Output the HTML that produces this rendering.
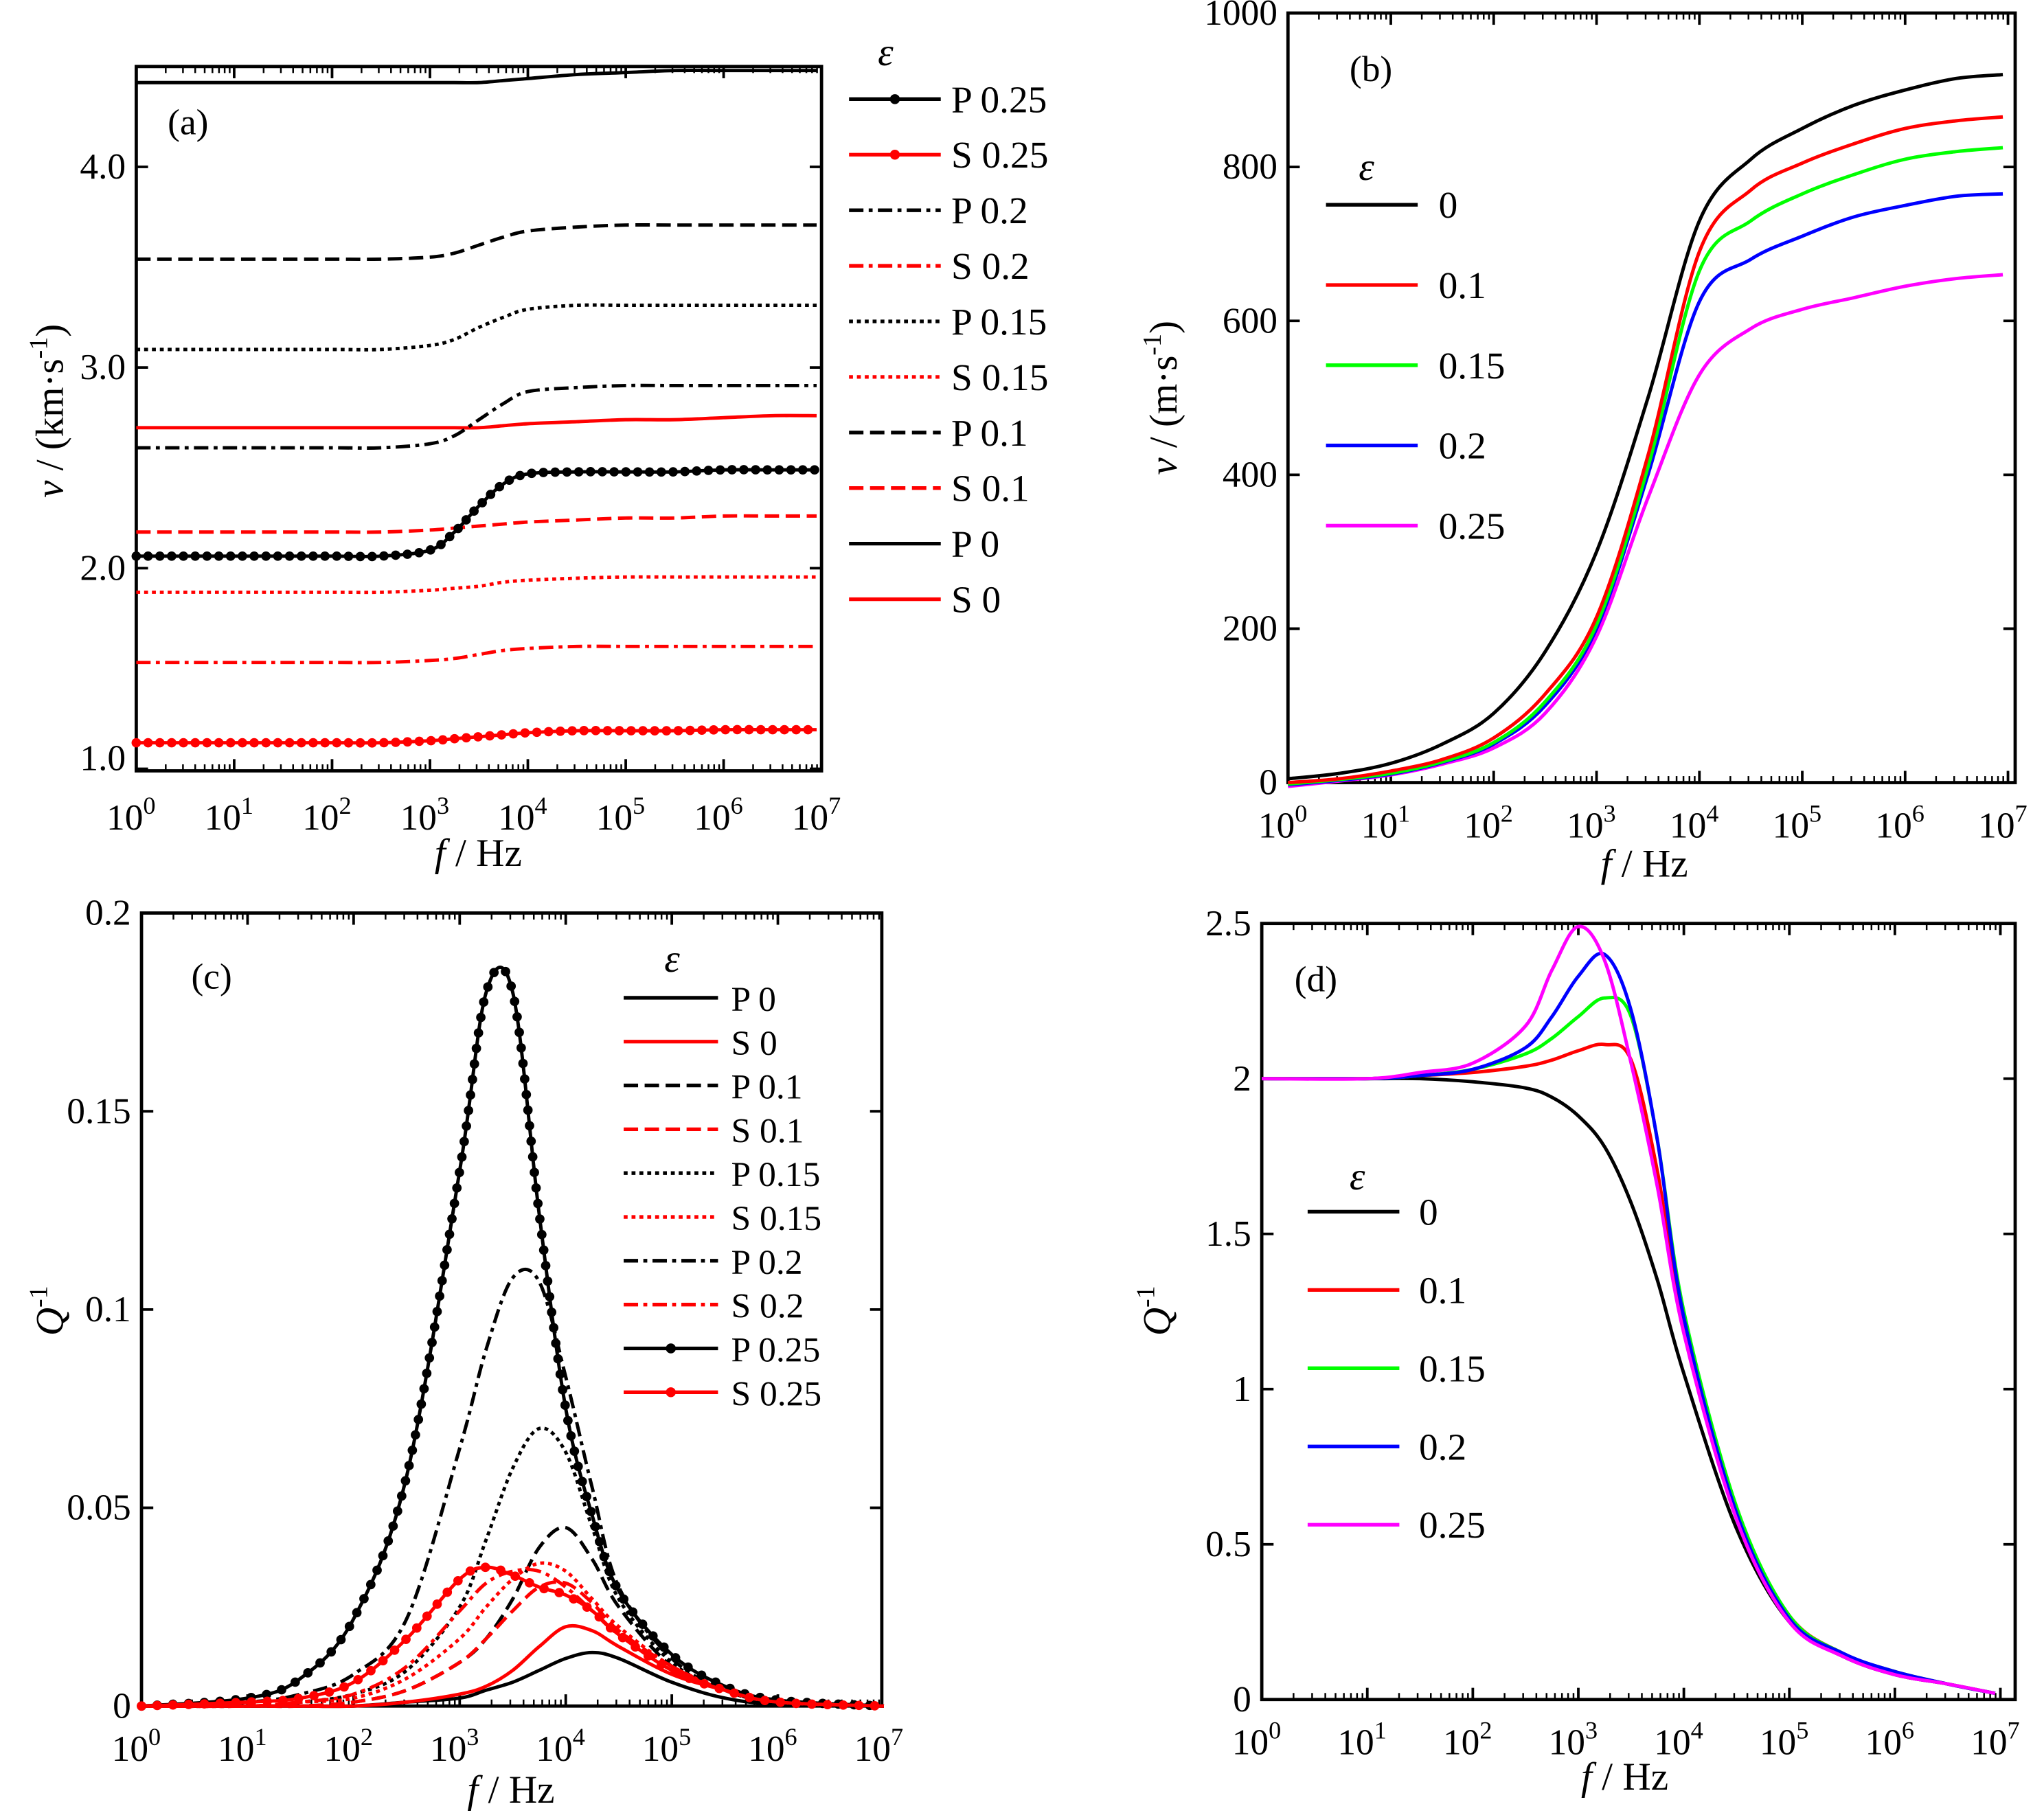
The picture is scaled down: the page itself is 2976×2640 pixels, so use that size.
<!DOCTYPE html>
<html><head><meta charset="utf-8"><style>
html,body{margin:0;padding:0;background:#fff;}
svg{display:block;}
text{font-family:"Liberation Serif",serif;fill:#000;}
</style></head><body>
<svg id="fig" xmlns="http://www.w3.org/2000/svg" width="2976" height="2640" viewBox="0 0 1560 1390" preserveAspectRatio="none"></svg>
<script>
// ---------- Panel (a) data: velocity (km/s) ----------
const aLogF = [0,1,2,2.5,3,3.25,3.5,3.75,4,4.5,5,5.5,6,6.5,6.95];
const aP025 = [2.06,2.06,2.06,2.06,2.09,2.18,2.31,2.42,2.47,2.48,2.48,2.48,2.49,2.49,2.49];
const aS025 = [1.13,1.13,1.13,1.13,1.14,1.15,1.16,1.17,1.18,1.19,1.19,1.19,1.195,1.195,1.195];
const aP02  = [2.60,2.60,2.60,2.60,2.62,2.66,2.74,2.82,2.88,2.90,2.91,2.91,2.91,2.91,2.91];
const aS02  = [1.53,1.53,1.53,1.53,1.54,1.55,1.57,1.59,1.60,1.61,1.61,1.61,1.61,1.61,1.61];
const aP015 = [3.09,3.09,3.09,3.09,3.11,3.14,3.20,3.25,3.29,3.31,3.31,3.31,3.31,3.31,3.31];
const aS015 = [1.88,1.88,1.88,1.88,1.89,1.90,1.91,1.93,1.94,1.95,1.956,1.956,1.956,1.956,1.956];
const aP01  = [3.54,3.54,3.54,3.54,3.55,3.57,3.61,3.65,3.68,3.70,3.71,3.71,3.71,3.71,3.71];
const aS01  = [2.18,2.18,2.18,2.18,2.19,2.20,2.21,2.22,2.23,2.24,2.25,2.25,2.26,2.26,2.26];
const aP0   = [4.42,4.42,4.42,4.42,4.42,4.42,4.42,4.43,4.44,4.46,4.47,4.48,4.48,4.48,4.48];
const aS0   = [2.70,2.70,2.70,2.70,2.70,2.70,2.70,2.71,2.72,2.73,2.74,2.74,2.75,2.76,2.76];
const aYTicks = [1,2,3,4];
const aYLabels = ["1.0","2.0","3.0","4.0"];

// ---------- Panel (b) data: velocity (m/s) ----------
const bLogF = [0,0.5,1,1.5,2,2.5,3,3.5,4,4.5,5,5.5,6,6.5,6.95];
const bE0   = [5,12,25,50,90,170,300,500,730,810,850,880,900,915,920];
const bE01  = [0,5,15,30,58,115,215,425,690,770,805,830,850,860,865];
const bE015 = [-2,4,12,27,52,105,205,410,665,730,765,790,810,820,825];
const bE02  = [-3,3,11,26,50,100,200,400,625,680,710,735,750,762,765];
const bE025 = [-5,2,10,24,45,90,190,370,530,590,615,630,645,655,660];
const bYTicks = [0,200,400,600,800,1000];

// ---------- Panel (c) data: attenuation ----------
const cLogF = [0,1,1.5,2,2.5,3,3.25,3.5,3.75,4,4.25,4.5,5,5.5,6,7];
const cP025 = [0,0.002,0.007,0.022,0.058,0.135,0.18,0.18,0.124,0.075,0.048,0.029,0.013,0.005,0.0015,0];
const cP02  = [0,0.001,0.003,0.008,0.022,0.065,0.09,0.108,0.107,0.083,0.055,0.03,0.012,0.004,0.001,0];
const cP015 = [0,0,0.001,0.003,0.009,0.025,0.042,0.06,0.07,0.064,0.045,0.027,0.011,0.004,0.001,0];
const cP01  = [0,0,0,0.001,0.004,0.011,0.017,0.027,0.04,0.045,0.037,0.025,0.01,0.004,0.001,0];
const cP0   = [0,0,0,0,0.001,0.002,0.004,0.006,0.009,0.012,0.0135,0.012,0.006,0.002,0.0005,0];
const cS025 = [0,0.001,0.002,0.006,0.017,0.032,0.035,0.033,0.03,0.028,0.024,0.018,0.009,0.004,0.001,0];
const cS02  = [0,0,0.001,0.003,0.01,0.024,0.031,0.034,0.034,0.03,0.024,0.018,0.01,0.004,0.001,0];
const cS015 = [0,0,0.001,0.002,0.007,0.017,0.025,0.032,0.036,0.034,0.027,0.02,0.01,0.004,0.001,0];
const cS01  = [0,0,0,0.001,0.004,0.011,0.017,0.024,0.03,0.031,0.026,0.019,0.01,0.004,0.001,0];
const cS0   = [0,0,0,0,0.001,0.003,0.005,0.009,0.015,0.02,0.019,0.015,0.008,0.004,0.001,0];
const cYTicks = [0,0.05,0.1,0.15,0.2];
const cYLabels = ["0","0.05","0.1","0.15","0.2"];

// ---------- Panel (d) data: normalized attenuation ----------
const dLogF = [0,1,1.5,2,2.5,2.75,3,3.25,3.5,3.75,4,4.5,5,5.5,6,6.5,6.95];
const dE0   = [2,2,2,1.99,1.97,1.94,1.88,1.78,1.6,1.35,1.05,0.55,0.25,0.14,0.08,0.05,0.02];
const dE01  = [2,2,2.01,2.02,2.04,2.06,2.09,2.11,2.06,1.7,1.2,0.6,0.27,0.15,0.09,0.05,0.02];
const dE015 = [2,2,2.01,2.03,2.08,2.13,2.2,2.26,2.2,1.8,1.25,0.62,0.27,0.15,0.09,0.05,0.02];
const dE02  = [2,2,2.01,2.03,2.1,2.2,2.33,2.4,2.22,1.8,1.23,0.6,0.26,0.15,0.09,0.05,0.02];
const dE025 = [2,2,2.02,2.05,2.17,2.35,2.49,2.38,2.05,1.65,1.18,0.58,0.25,0.14,0.08,0.05,0.02];
const dYTicks = [0,0.5,1,1.5,2,2.5];
const dYLabels = ["0","0.5","1","1.5","2","2.5"];

const NS="http://www.w3.org/2000/svg";
const svg=document.getElementById('fig');
function mk(tag,attrs,parent){const e=document.createElementNS(NS,tag);for(const k in attrs)e.setAttribute(k,attrs[k]);(parent||svg).appendChild(e);return e;}

function makePanel(P){
  const g=mk('g',{});
  
  
  P.g=g;
  P.sx=v=>P.x0+(v-P.xmin)/(P.xmax-P.xmin)*(P.x1-P.x0);
  P.sy=v=>P.y1-(v-P.ymin)/(P.ymax-P.ymin)*(P.y1-P.y0);
  return P;
}
function drawAxes(P){
  const g=P.g;
  const box=mk('rect',{x:P.x0,y:P.y0,width:P.x1-P.x0,height:P.y1-P.y0,fill:'none',stroke:'#000','stroke-width':2.5},g);
  
  
  for(let d=0;d<=7;d++){
    const x=P.sx(d);
    if(x<=P.x1+0.5){
      mk('line',{x1:x,y1:P.y1,x2:x,y2:P.y1-9,stroke:'#000','stroke-width':2},g);
      mk('line',{x1:x,y1:P.y0,x2:x,y2:P.y0+9,stroke:'#000','stroke-width':2},g);
    }
    for(let m=2;m<=9;m++){
      const xm=P.sx(d+Math.log10(m));
      if(xm<P.x1){
        mk('line',{x1:xm,y1:P.y1,x2:xm,y2:P.y1-5,stroke:'#000','stroke-width':1.3},g);
        mk('line',{x1:xm,y1:P.y0,x2:xm,y2:P.y0+5,stroke:'#000','stroke-width':1.3},g);
      }
    }
    const t=mk('text',{x:P.sx(d)-4,y:P.xlabY,'font-size':28,'text-anchor':'middle'},g);
    
    
    t.appendChild(document.createTextNode('10'));
    const s=mk('tspan',{dy:-12,'font-size':19},t); s.textContent=String(d);
  }
  P.yt.forEach((v,i)=>{
    const y=P.sy(v);
    mk('line',{x1:P.x0,y1:y,x2:P.x0+9,y2:y,stroke:'#000','stroke-width':2},g);
    mk('line',{x1:P.x1,y1:y,x2:P.x1-9,y2:y,stroke:'#000','stroke-width':2},g);
    const t=mk('text',{x:P.x0-8,y:y+9+(P.ylabShift||0)*(i===0?1:0),'font-size':28,'text-anchor':'end'},g);
    
    
    t.textContent=P.yl[i];
  });
  const xt=mk('text',{x:P.xtX,y:P.xtY,'font-size':30,'text-anchor':'middle'},g);
  
  
  const fi=mk('tspan',{'font-style':'italic'},xt); fi.textContent='f';
  const r=mk('tspan',{},xt); r.textContent=' / Hz';
  const pl=mk('text',{x:P.plX,y:P.plY,'font-size':28},g);
  
  
  pl.textContent=P.label;
}
function splinePath(P,xs,ys){
  const pts=xs.map((x,i)=>[P.sx(x),P.sy(ys[i])]);
  let d='M'+pts[0][0].toFixed(2)+','+pts[0][1].toFixed(2);
  for(let i=0;i<pts.length-1;i++){
    const p0=pts[Math.max(0,i-1)],p1=pts[i],p2=pts[i+1],p3=pts[Math.min(pts.length-1,i+2)];
    const c1=[p1[0]+(p2[0]-p0[0])/6,p1[1]+(p2[1]-p0[1])/6];
    const c2=[p2[0]-(p3[0]-p1[0])/6,p2[1]-(p3[1]-p1[1])/6];
    d+=' C'+c1[0].toFixed(2)+','+c1[1].toFixed(2)+' '+c2[0].toFixed(2)+','+c2[1].toFixed(2)+' '+p2[0].toFixed(2)+','+p2[1].toFixed(2);
  }
  return d;
}
const DASH={solid:'none',dash:'11,5',dot:'3,3',dashdot:'11,4,3,4'};
function series(P,xs,ys,color,style,dots,name){
  const p=mk('path',{d:splinePath(P,xs,ys),fill:'none',stroke:color,'stroke-width':2.6,'stroke-dasharray':DASH[style]},P.g);
  
  
  if(dots){
    const L=p.getTotalLength();
    for(let l=0;l<=L;l+=dots){
      const q=p.getPointAtLength(l);
      const c=mk('circle',{cx:q.x,cy:q.y,r:3.6,fill:color},P.g);
      
      
    }
  }
}
function legend(P,L){
  const g=mk('g',{},P.g);
  
  
  const e=mk('text',{x:L.ex,y:L.ey,'font-size':30,'font-style':'italic'},g);
  
  
  e.textContent='ε';
  L.items.forEach((it,i)=>{
    const y=L.y0+i*L.dy;
    const ln=mk('line',{x1:L.lx0,y1:y,x2:L.lx1,y2:y,stroke:it[1],'stroke-width':2.8,'stroke-dasharray':DASH[it[2]]},g);
    
    
    if(it[3]) mk('circle',{cx:(L.lx0+L.lx1)/2,cy:y,r:3.8,fill:it[1]},g);
    const t=mk('text',{x:L.tx,y:y+10,'font-size':L.fs,'xml:space':'preserve'},g);
    
    
    t.textContent=it[0];
  });
}
function ytitle(P,x,y,parts){
  const t=mk('text',{x:x,y:y,'font-size':30,'text-anchor':'middle',transform:'rotate(-90 '+x+' '+y+')'},P.g);
  
  
  parts.forEach(p=>{const s=mk('tspan',p.a||{},t);s.textContent=p.t;});
}

// ----- Panel a -----
const A=makePanel({name:'panel-a',x0:104,x1:627,y0:51,y1:591,xmin:0,xmax:7,ymin:0.99,ymax:4.5,yt:aYTicks,yl:aYLabels,xlabY:636,xtX:365,xtY:664,plX:128,plY:103,label:'(a)',ylabShift:-8});
drawAxes(A);
series(A,aLogF,aP0,'#000','solid',0,'series-p-0');
series(A,aLogF,aS0,'#f00','solid',0,'series-s-0');
series(A,aLogF,aP01,'#000','dash',0,'series-p-0.1');
series(A,aLogF,aS01,'#f00','dash',0,'series-s-0.1');
series(A,aLogF,aP015,'#000','dot',0,'series-p-0.15');
series(A,aLogF,aS015,'#f00','dot',0,'series-s-0.15');
series(A,aLogF,aP02,'#000','dashdot',0,'series-p-0.2');
series(A,aLogF,aS02,'#f00','dashdot',0,'series-s-0.2');
series(A,aLogF,aP025,'#000','solid',9,'series-p-0.25');
series(A,aLogF,aS025,'#f00','solid',9,'series-s-0.25');
ytitle(A,48,315,[{t:'v',a:{'font-style':'italic'}},{t:' / (km·s'},{t:'-1',a:{dy:-12,'font-size':20}},{t:')',a:{dy:12}}]);
legend(A,{ex:670,ey:50,lx0:648,lx1:718,tx:726,y0:76,dy:42.6,fs:29,items:[
 ['P 0.25','#000','solid',1],['S  0.25','#f00','solid',1],['P  0.2','#000','dashdot'],['S  0.2','#f00','dashdot'],
 ['P  0.15','#000','dot'],['S  0.15','#f00','dot'],['P  0.1','#000','dash'],['S  0.1','#f00','dash'],
 ['P  0','#000','solid'],['S  0','#f00','solid']]});

// ----- Panel b -----
const B=makePanel({name:'panel-b',x0:983,x1:1538,y0:10,y1:600,xmin:0,xmax:7.07,ymin:0,ymax:1000,yt:bYTicks,yl:bYTicks.map(String),xlabY:642,xtX:1255,xtY:672,plX:1030,plY:62,label:'(b)'});
drawAxes(B);
series(B,bLogF,bE025,'#f0f','solid',0,'series-eps-0.25');
series(B,bLogF,bE02,'#00f','solid',0,'series-eps-0.2');
series(B,bLogF,bE015,'#0f0','solid',0,'series-eps-0.15');
series(B,bLogF,bE01,'#f00','solid',0,'series-eps-0.1');
series(B,bLogF,bE0,'#000','solid',0,'series-eps-0');
ytitle(B,898,305,[{t:'v',a:{'font-style':'italic'}},{t:' / (m·s'},{t:'-1',a:{dy:-12,'font-size':20}},{t:')',a:{dy:12}}]);
legend(B,{ex:1037,ey:138,lx0:1012,lx1:1082,tx:1098,y0:157,dy:61.5,fs:29,items:[
 ['0','#000','solid'],['0.1','#f00','solid'],['0.15','#0f0','solid'],['0.2','#00f','solid'],['0.25','#f0f','solid']]});

// ----- Panel c -----
const C=makePanel({name:'panel-c',x0:108,x1:673,y0:700,y1:1308,xmin:0,xmax:6.98,ymin:0,ymax:0.2,yt:cYTicks,yl:cYLabels,xlabY:1350,xtX:390,xtY:1382,plX:146,plY:758,label:'(c)'});
drawAxes(C);
series(C,cLogF,cP0,'#000','solid',0,'series-p-0');
series(C,cLogF,cP01,'#000','dash',0,'series-p-0.1');
series(C,cLogF,cP015,'#000','dot',0,'series-p-0.15');
series(C,cLogF,cP02,'#000','dashdot',0,'series-p-0.2');
series(C,cLogF,cS0,'#f00','solid',0,'series-s-0');
series(C,cLogF,cS01,'#f00','dash',0,'series-s-0.1');
series(C,cLogF,cS015,'#f00','dot',0,'series-s-0.15');
series(C,cLogF,cS02,'#f00','dashdot',0,'series-s-0.2');
series(C,cLogF,cP025,'#000','solid',12,'series-p-0.25');
series(C,cLogF,cS025,'#f00','solid',12,'series-s-0.25');
ytitle(C,48,1005,[{t:'Q',a:{'font-style':'italic'}},{t:'-1',a:{dy:-12,'font-size':20}}]);
legend(C,{ex:507,ey:745,lx0:476,lx1:548,tx:558,y0:765,dy:33.6,fs:27,items:[
 ['P 0','#000','solid'],['S  0','#f00','solid'],['P  0.1','#000','dash'],['S  0.1','#f00','dash'],
 ['P  0.15','#000','dot'],['S  0.15','#f00','dot'],['P  0.2','#000','dashdot'],['S  0.2','#f00','dashdot'],
 ['P  0.25','#000','solid',1],['S  0.25','#f00','solid',1]]});

// ----- Panel d -----
const D=makePanel({name:'panel-d',x0:963,x1:1538,y0:708,y1:1303,xmin:0,xmax:7.14,ymin:0,ymax:2.5,yt:dYTicks,yl:dYLabels,xlabY:1345,xtX:1240,xtY:1372,plX:988,plY:760,label:'(d)'});
drawAxes(D);
series(D,dLogF,dE0,'#000','solid',0,'series-eps-0');
series(D,dLogF,dE01,'#f00','solid',0,'series-eps-0.1');
series(D,dLogF,dE015,'#0f0','solid',0,'series-eps-0.15');
series(D,dLogF,dE02,'#00f','solid',0,'series-eps-0.2');
series(D,dLogF,dE025,'#f0f','solid',0,'series-eps-0.25');
ytitle(D,893,1005,[{t:'Q',a:{'font-style':'italic'}},{t:'-1',a:{dy:-12,'font-size':20}}]);
legend(D,{ex:1030,ey:912,lx0:998,lx1:1068,tx:1083,y0:929,dy:60,fs:29,items:[
 ['0','#000','solid'],['0.1','#f00','solid'],['0.15','#0f0','solid'],['0.2','#00f','solid'],['0.25','#f0f','solid']]});
</script>
</body></html>
